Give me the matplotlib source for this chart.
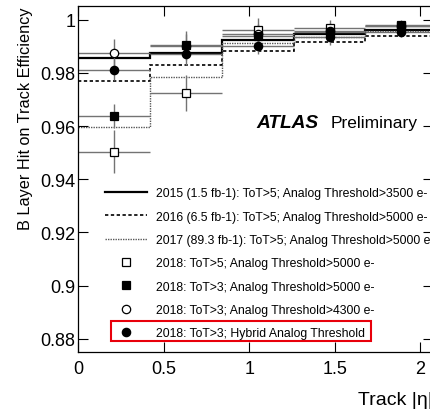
import matplotlib
matplotlib.use("Agg")
import matplotlib.pyplot as plt
from matplotlib.patches import Rectangle

plt.rcParams['font.family'] = ['Liberation Sans', 'DejaVu Sans']

# bin edges in |eta|
edges = [0.0, 0.42, 0.84, 1.26, 1.68, 2.10]

# 2015-2017 histograms
eff_2015 = [0.9857, 0.9874, 0.9925, 0.9946, 0.9962]
eff_2016 = [0.9771, 0.9829, 0.9883, 0.9915, 0.9939]
eff_2017 = [0.9598, 0.9783, 0.9911, 0.9936, 0.9958]

# 2018 points
tot5_5000 = [0.9504, 0.9724, 0.9960, 0.9968, 0.9975]
tot5_5000_err = [0.0082, 0.0066, 0.0045, 0.003, 0.002]
tot3_5000 = [0.9639, 0.9903, 0.9940, 0.9955, 0.9979]
tot3_5000_err = [0.0045, 0.0055, 0.004, 0.003, 0.002]
tot3_4300 = [0.9874, 0.9900, 0.9945, 0.9958, 0.9975]
tot3_4300_err = [0.0053, 0.0045, 0.004, 0.003, 0.002]
hybrid = [0.9812, 0.9871, 0.9902, 0.9934, 0.9954]
hybrid_err = [0.004, 0.004, 0.003, 0.003, 0.002]

labels = [
    "2015 (1.5 fb-1): ToT>5; Analog Threshold>3500 e-",
    "2016 (6.5 fb-1): ToT>5; Analog Threshold>5000 e-",
    "2017 (89.3 fb-1): ToT>5; Analog Threshold>5000 e-",
    "2018: ToT>5; Analog Threshold>5000 e-",
    "2018: ToT>3; Analog Threshold>5000 e-",
    "2018: ToT>3; Analog Threshold>4300 e-",
    "2018: ToT>3; Hybrid Analog Threshold",
]

centers = [(a + b) / 2 for a, b in zip(edges[:-1], edges[1:])]
halfw = [(b - a) / 2 for a, b in zip(edges[:-1], edges[1:])]

W, H = 431, 414
fig = plt.figure(figsize=(W / 100, H / 100), dpi=100)
ax = fig.add_axes([78.3 / W, (H - 352.7) / H, (433 - 78.3) / W, (352.7 - 7.3) / H])

ax.stairs(eff_2015, edges, baseline=None, color='black', lw=1.6)
ax.stairs(eff_2016, edges, baseline=None, color='black', lw=1.2, ls=(0, (2, 1.5)))
ax.stairs(eff_2017, edges, baseline=None, color='0.35', lw=1.0, ls=(0, (1, 0.8)))

pts = [
    (tot5_5000, tot5_5000_err, 's', 'white'),
    (tot3_5000, tot3_5000_err, 's', 'black'),
    (tot3_4300, tot3_4300_err, 'o', 'white'),
    (hybrid, hybrid_err, 'o', 'black'),
]
for vals, err, m, fc in pts:
    ax.errorbar(centers, vals, yerr=err, xerr=halfw, fmt='none', ecolor='0.45', elinewidth=1.0)
# drawing order: open markers first, filled on top
for i in [0, 2, 1, 3]:
    vals, err, m, fc = pts[i]
    ax.plot(centers, vals, ls='none', marker=m, ms=6, mfc=fc, mec='black', mew=0.9)

# legend proxies
h = []
h.append(ax.plot([], [], color='black', lw=1.6)[0])
h.append(ax.plot([], [], color='black', lw=1.2, ls=(0, (2, 1.5)))[0])
h.append(ax.plot([], [], color='0.35', lw=1.0, ls=(0, (1, 0.8)))[0])
for vals, err, m, fc in pts:
    h.append(ax.plot([], [], ls='none', marker=m, ms=6, mfc=fc, mec='black', mew=0.9)[0])

leg = ax.legend(h, labels, loc='upper left', bbox_to_anchor=(105 / W, 1 - 188.2 / H),
                bbox_transform=fig.transFigure, frameon=False, fontsize=8.8,
                handlelength=3.43, handletextpad=0.71, labelspacing=0.93, borderpad=0,
                borderaxespad=0)

fig.patches.append(Rectangle((110.7 / W, 1 - 342 / H), 260 / W, 19.7 / H,
                             transform=fig.transFigure, fill=False, ec='#e8000b', lw=1.5))

fig.text(256.7 / W, 1 - 127.7 / H, 'ATLAS', fontsize=13.8, fontweight='bold', style='italic', va='baseline')
fig.text(330.7 / W, 1 - 127.7 / H, 'Preliminary', fontsize=12.5, va='baseline')

ax.set_xlim(0, 2.075)
ax.set_ylim(0.8752, 1.005)
ax.set_xticks([0, 0.5, 1, 1.5, 2])
ax.set_xticklabels(['0', '0.5', '1', '1.5', '2'])
ax.set_yticks([0.88, 0.9, 0.92, 0.94, 0.96, 0.98, 1])
ax.set_yticklabels(['0.88', '0.9', '0.92', '0.94', '0.96', '0.98', '1'])
ax.tick_params(direction='in', length=7, width=0.8, top=True, right=True, labelsize=13)
ax.tick_params(axis='x', pad=6)
ax.tick_params(axis='y', pad=2)
for s in ax.spines.values():
    s.set_linewidth(0.9)

ax.set_ylabel('B Layer Hit on Track Efficiency', fontsize=11.7, loc='top', labelpad=5)
ax.set_xlabel('Track |η|', fontsize=14, loc='right', labelpad=10)

fig.savefig('out.png', dpi=100)
